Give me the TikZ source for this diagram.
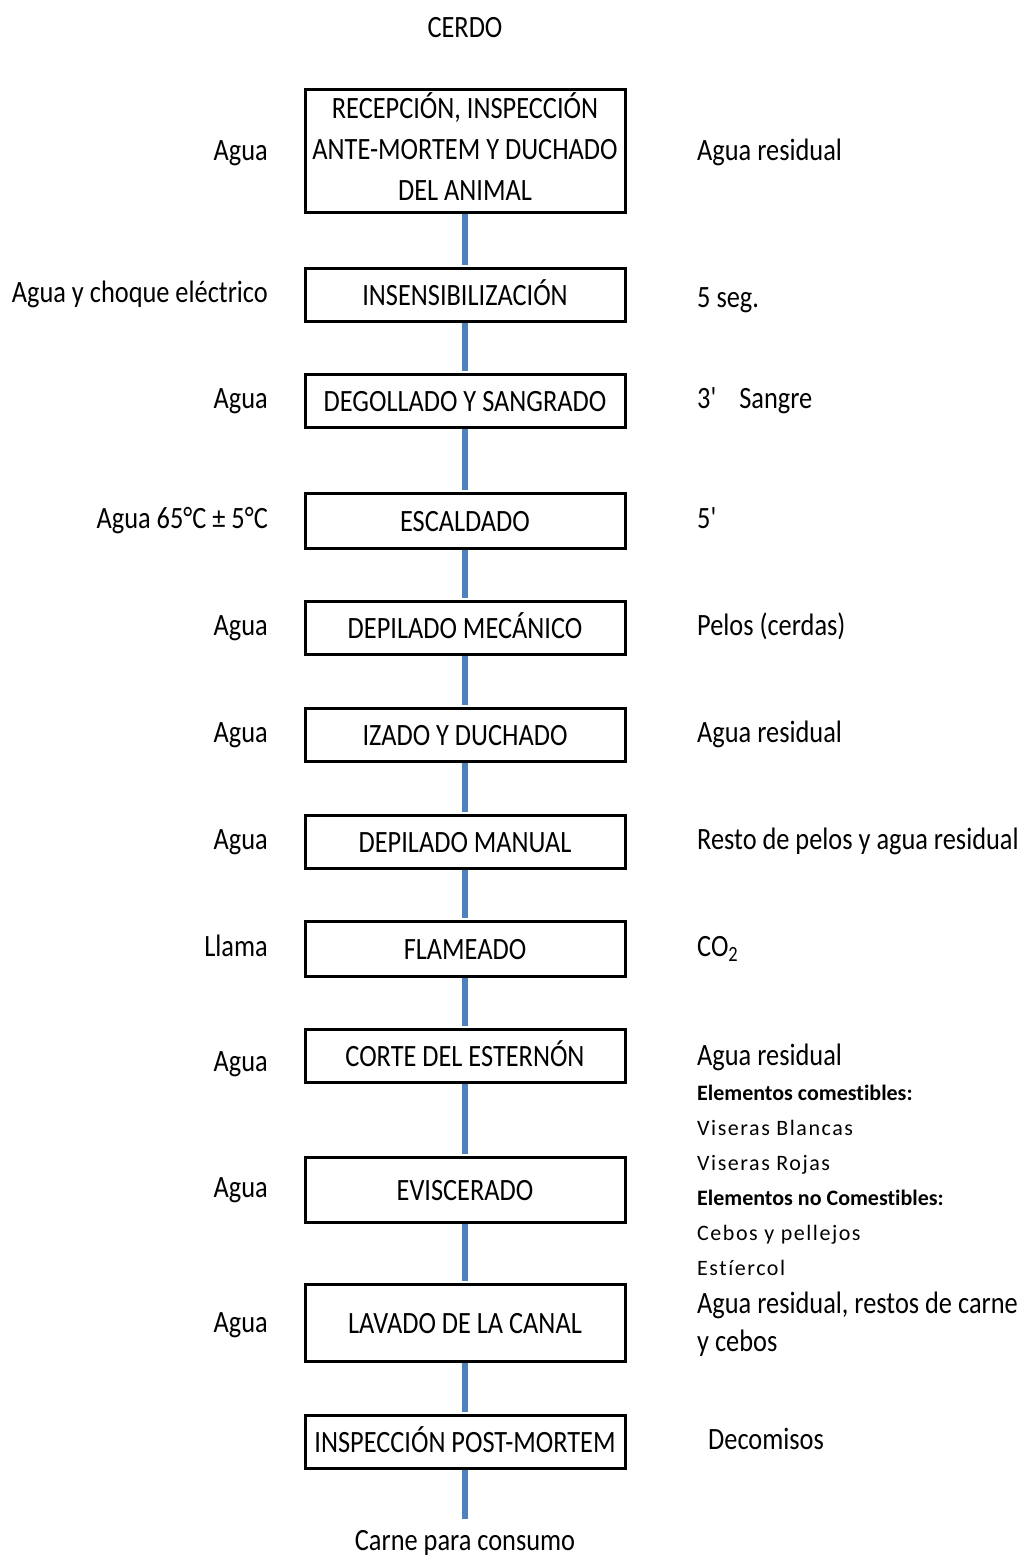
\documentclass[tikz,border=0pt]{standalone}
\usepackage{fontspec}
\setmainfont{Carlito}[FakeStretch=0.85,Ligatures=NoCommon]
\newfontfamily\listfont{Carlito}[LetterSpace=7,Ligatures=NoCommon]
\newfontfamily\listbold{Carlito}[UprightFont=*-Bold,Ligatures=NoCommon]
\usepackage{tikz}
\usetikzlibrary{shapes}

\definecolor{flowblue}{RGB}{79,129,189}
\newcommand{\lista}{\listfont\fontsize{22}{35}\selectfont}
\newcommand{\listab}{\listbold\fontsize{22}{35}\selectfont}

\tikzset{
  paso/.style={draw,shape=rectangle,line width=3pt,minimum width=320pt,
    minimum height=53pt,inner sep=0pt,text height=20pt,text depth=0pt},
  flujo/.style={draw=flowblue,line width=6pt,shorten >=2pt},
  entrada/.style={anchor=east,inner sep=0pt,text height=20pt,text depth=6pt},
  salida/.style={anchor=west,inner sep=0pt,text height=20pt,text depth=6pt}
}

\begin{document}
\begin{tikzpicture}[x=1pt,y=-1pt,font=\fontsize{31}{41}\selectfont]
\useasboundingbox (0,0) rectangle (1032,1558);

\node (cerdo) at (465,28) {CERDO};

\node (recepcion) at (465,151) [paso,minimum height=122pt,text height={},text depth={}] {
\begin{tabular}{c}
RECEPCIÓN, INSPECCIÓN \\
ANTE-MORTEM Y DUCHADO \\
DEL ANIMAL
\end{tabular}
};
\node (insens) at (465,295) [paso] {INSENSIBILIZACIÓN};
\node (degollado) at (465,401) [paso] {DEGOLLADO Y SANGRADO};
\node (escaldado) at (465,521) [paso,minimum height=55pt] {ESCALDADO};
\node (depmec) at (465,628) [paso] {DEPILADO MECÁNICO};
\node (izado) at (465,735) [paso] {IZADO Y DUCHADO};
\node (depman) at (465,842) [paso] {DEPILADO MANUAL};
\node (flameado) at (465,949) [paso,minimum height=55pt] {FLAMEADO};
\node (corte) at (465,1056) [paso] {CORTE DEL ESTERNÓN};
\node (eviscerado) at (465,1190) [paso,minimum height=65pt] {EVISCERADO};
\node (lavado) at (465,1323) [paso,minimum height=77pt] {LAVADO DE LA CANAL};
\node (postmortem) at (465,1442) [paso] {INSPECCIÓN POST-MORTEM};
\node (carne) at (465,1543) {Carne para consumo};

% entradas
\node (ina) at (268,153) [entrada] {Agua};
\node (inb) at (268,295) [entrada] {Agua y choque eléctrico};
\node (inc) at (268,401) [entrada] {Agua};
\node (ind) at (268,521) [entrada] {Agua 65°C ± 5°C};
\node (ine) at (268,628) [entrada] {Agua};
\node (inf) at (268,735) [entrada] {Agua};
\node (ing) at (268,842) [entrada] {Agua};
\node (inh) at (268,949) [entrada] {Llama};
\node (ini) at (268,1064) [entrada] {Agua};
\node (inj) at (268,1190) [entrada] {Agua};
\node (ink) at (268,1325) [entrada] {Agua};

% salidas
\node (outa) at (697,153) [salida] {Agua residual};
\node (outb) at (697,300) [salida] {5 seg.};
\node (outc) at (697,401) [salida] {3\textquotesingle\hspace{22pt}Sangre};
\node (outd) at (697,521) [salida] {5\textquotesingle};
\node (oute) at (697,628) [salida] {Pelos (cerdas)};
\node (outf) at (697,735) [salida] {Agua residual};
\node (outg) at (697,842) [salida] {Resto de pelos y agua residual};
\node (outh) at (697,949) [salida] {CO\textsubscript{2}};
\node (outi) at (697,1163) [salida,text height={},text depth={},font=\fontsize{31}{35}\selectfont] {
\begin{tabular}{@{}l@{}}
Agua residual \\
\listab Elementos comestibles: \\
\lista Viseras Blancas \\
\lista Viseras Rojas \\
\listab Elementos no Comestibles: \\
\lista Cebos y pellejos \\
\lista Estíercol
\end{tabular}
};
\node (outk) at (697,1325) [salida,text height={},text depth={},font=\fontsize{31}{38}\selectfont] {
\begin{tabular}{@{}l@{}}
Agua residual, restos de carne \\
y cebos
\end{tabular}
};
\node (outl) at (708,1442) [salida] {Decomisos};

\draw [flujo] (recepcion.south) -- (insens.north);
\draw [flujo] (insens.south) -- (degollado.north);
\draw [flujo] (degollado.south) -- (escaldado.north);
\draw [flujo] (escaldado.south) -- (depmec.north);
\draw [flujo] (depmec.south) -- (izado.north);
\draw [flujo] (izado.south) -- (depman.north);
\draw [flujo] (depman.south) -- (flameado.north);
\draw [flujo] (flameado.south) -- (corte.north);
\draw [flujo] (corte.south) -- (eviscerado.north);
\draw [flujo] (eviscerado.south) -- (lavado.north);
\draw [flujo] (lavado.south) -- (postmortem.north);
\draw [flujo,shorten >=8pt] (postmortem.south) -- (carne.north);
\end{tikzpicture}
\end{document}
